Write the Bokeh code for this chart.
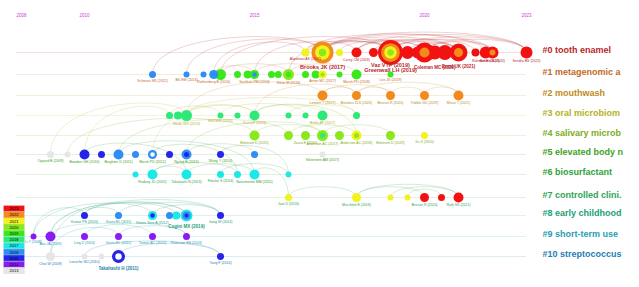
from bokeh.plotting import figure
from bokeh.models import Range1d
from bokeh.embed import file_html
from bokeh.resources import INLINE
from bokeh.core.properties import value

# ---------------- data ----------------
slice_years = [2023, 2022, 2021, 2020, 2019, 2018, 2017, 2016, 2015, 2014, 2013]
slice_colors = ["#f21212", "#f28a1c", "#f2f21c", "#8ae81c", "#3ce81c", "#2ee878",
                "#1ce8e8", "#2e8ef2", "#2424ea", "#8a1cf2", "#e6e6e6"]

axis_years = [2008, 2010, 2015, 2020, 2023]

# cluster labels as far as they are visible in the view
cluster_labels = ["#0 tooth enamel", "#1 metagenomic a", "#2 mouthwash",
                  "#3 oral microbiom", "#4 salivary microb",
                  "#5 elevated body n", "#6 biosurfactant",
                  "#7 controlled clini.", "#8 early childhood",
                  "#9 short-term use", "#10 streptococcus"]
cluster_colors = ["#b8262a", "#bf6a26", "#c08a1c", "#b4b21e", "#7eac1e", "#3ea224",
                  "#2ea23a", "#2ea454", "#20a078", "#1e9eb2", "#1e7eb4"]

# nodes: cluster, timeline year, radius class, rings of slice years (outer -> inner)
node_cluster = [0, 0, 0, 0, 0, 0, 0, 0, 0, 0, 0, 0, 0, 0, 0, 0,
                1, 1, 1, 1, 1, 1, 1, 1, 1, 1, 1, 1, 1, 1, 1, 1, 1,
                2, 2, 2, 2, 2,
                3, 3, 3, 3, 3, 3, 3, 3, 3, 3,
                4, 4, 4, 4, 4, 4, 4, 4,
                5, 5, 5, 5, 5, 5, 5, 5, 5, 5, 5, 5,
                6, 6, 6, 6, 6, 6, 6,
                7, 7, 7, 7, 7, 7, 7,
                8, 8, 8, 8, 8, 8, 8,
                9, 9, 9, 9, 9, 9,
                10, 10, 10, 10, 10]
node_t = [2016.5, 2017, 2017.5, 2018, 2018.5, 2019, 2019.5, 2019.8, 2020, 2020.3, 2020.6,
          2021, 2021.5, 2021.8, 2022, 2023,
          2012, 2013, 2013.5, 2013.8, 2014, 2014.5, 2014.8, 2015, 2015.5, 2015.7, 2016,
          2016.5, 2016.8, 2017, 2017.5, 2018, 2019,
          2017, 2018, 2019, 2020, 2021,
          2012.5, 2012.75, 2013, 2014, 2014.5, 2015, 2016, 2016.5, 2017, 2018,
          2015, 2016, 2016.5, 2017, 2017.5, 2018, 2019, 2020,
          2009, 2009.5, 2010, 2010.5, 2011, 2011.5, 2012, 2012.5, 2013, 2014, 2015, 2017,
          2011.5, 2012, 2013, 2014, 2014.5, 2015, 2016,
          2016, 2018, 2019, 2019.5, 2020, 2020.5, 2021,
          2010, 2011, 2012, 2012.5, 2012.7, 2013, 2014,
          2008.5, 2009, 2010, 2011, 2012, 2013,
          2009, 2010, 2010.5, 2011, 2014]
node_r = [4, 11, 3.5, 5, 4.5, 12.5, 6.5, 6, 10, 7, 7.5, 9, 4, 6, 6, 6,
          3.5, 3, 3, 4.5, 5.5, 3.5, 4, 4.5, 3.5, 3.5, 5.5, 3.5, 4, 4, 3, 5, 3,
          5, 4.5, 4.5, 4.5, 5,
          3.5, 4, 5.5, 3, 3, 5, 3, 3, 5, 3.5,
          5, 4.5, 4.5, 5.5, 4.5, 5, 4.5, 3.5,
          3.5, 3, 5, 3.5, 5, 3.5, 4.5, 3.5, 5, 3.5, 3.5, 3,
          3, 5, 5, 3.5, 3.5, 5, 3,
          3.5, 4.5, 3, 3, 4.5, 3.5, 5,
          3.5, 3.5, 4.5, 3.5, 4, 6, 3.5,
          3, 5, 3.5, 3.5, 3.5, 3.5,
          4.5, 3, 3, 6.5, 3.5]
node_rings = ["2021", "2022 2021 2020", "2021", "2023", "2023", "2023 2022 2021 2020",
              "2023", "2023", "2023 2022", "2023", "2023", "2023 2022", "2023", "2023",
              "2023 2022", "2023",
              "2016", "2016", "2016", "2016", "2019", "2019", "2019", "2019 2016", "2019",
              "2019", "2020 2019", "2019", "2019", "2021 2020", "2019", "2019", "2019",
              "2022", "2022", "2022", "2022", "2022",
              "2018", "2018", "2018", "2018", "2018", "2018", "2018", "2018", "2018", "2018",
              "2020", "2020", "2020", "2020 2018", "2020", "2021 2020", "2020", "2021",
              "2013", "2013", "2015", "2015", "2016", "2016", "2016 w", "2015", "2016 2015",
              "2015", "2016", "2013",
              "2017", "2017", "2017", "2017", "2017", "2017", "2017",
              "2021", "2021", "2021", "2021", "2023", "2023", "2023",
              "2015", "2016", "2017 2015", "2016", "2017", "2017 2016 2015", "2015",
              "2014", "2014", "2014", "2014", "2014", "2014",
              "2013", "2013", "2013", "2015 w", "2015"]

# co-citation links: (cluster, year) -> (cluster, year)
edges = [((0, 2017), (0, 2019)), ((0, 2017), (0, 2020)), ((0, 2017), (0, 2021)),
         ((0, 2017), (0, 2023)), ((0, 2016.5), (0, 2019)), ((0, 2018), (0, 2020.6)),
         ((0, 2019), (0, 2021)), ((0, 2019), (0, 2022)), ((0, 2019), (0, 2023)),
         ((0, 2018.5), (0, 2021.5)), ((0, 2020), (0, 2022)), ((0, 2019.5), (0, 2021)),
         ((0, 2020), (0, 2023)), ((0, 2017.5), (0, 2020)), ((0, 2016.5), (0, 2021.8)),
         ((0, 2018), (0, 2023)), ((0, 2017), (0, 2022)), ((0, 2018), (0, 2021)),
         ((1, 2012), (0, 2017)), ((1, 2013), (0, 2017)), ((1, 2014), (0, 2019)),
         ((1, 2015), (0, 2018)), ((1, 2016), (0, 2019)), ((1, 2013.8), (0, 2016.5)),
         ((1, 2013.8), (1, 2015)), ((1, 2014), (1, 2016)), ((1, 2015), (1, 2017)),
         ((1, 2016), (1, 2018)),
         ((2, 2017), (2, 2018)), ((2, 2018), (2, 2019)), ((2, 2019), (2, 2020)),
         ((2, 2020), (2, 2021)), ((2, 2017), (2, 2019)), ((2, 2018), (2, 2021)),
         ((3, 2013), (2, 2017)), ((3, 2015), (2, 2018)), ((3, 2012.5), (3, 2014)),
         ((3, 2013), (3, 2015)), ((3, 2015), (3, 2017)), ((3, 2014), (3, 2016.5)),
         ((3, 2013), (3, 2018)), ((3, 2016), (3, 2018)),
         ((5, 2009), (3, 2013)), ((5, 2009.5), (4, 2015)), ((5, 2010), (3, 2012.5)),
         ((5, 2011), (4, 2016)), ((5, 2013), (4, 2017)), ((5, 2012), (3, 2015)),
         ((4, 2015), (4, 2017)), ((4, 2016), (4, 2018)), ((4, 2017), (4, 2019)),
         ((3, 2015), (4, 2018)),
         ((5, 2010), (6, 2013)), ((5, 2011), (6, 2015)), ((5, 2012), (6, 2014.5)),
         ((6, 2012), (6, 2013)), ((6, 2013), (6, 2015)), ((6, 2012), (6, 2014.5)),
         ((6, 2014), (6, 2016)), ((5, 2014), (6, 2016)), ((5, 2013), (5, 2015)),
         ((6, 2015), (7, 2016)), ((7, 2016), (7, 2018)), ((7, 2018), (7, 2020)),
         ((7, 2019), (7, 2021)), ((7, 2019.5), (7, 2020.5)), ((7, 2018), (7, 2021)),
         ((9, 2008.5), (8, 2012)), ((9, 2009), (8, 2013)), ((8, 2010), (8, 2013)),
         ((8, 2011), (8, 2014)), ((8, 2012), (8, 2014)), ((10, 2009), (8, 2011)),
         ((9, 2009), (9, 2012)), ((9, 2010), (9, 2013)), ((9, 2011), (9, 2013)),
         ((10, 2010), (10, 2014)), ((10, 2011), (10, 2014)), ((9, 2008.5), (8, 2010)),
         ((10, 2009), (9, 2011)), ((8, 2010), (8, 2012.7)), ((9, 2009), (8, 2014))]

# node labels: cluster, year, text
big_labels = [(0, 2017, "Brooks JK (2017)"), (0, 2019, "Vaz VTP (2019)"),
              (0, 2019, "Greenwall LH (2019)"), (0, 2020.3, "Coleman MC (2020)"),
              (0, 2021, "Bond UK (2021)"), (8, 2013, "Cugini MX (2019)"),
              (10, 2011, "Takahashi H (2011)")]
small_labels = [(0, 2016.5, "Alqahtani AS (2017)"), (0, 2018, "Carey CM (2018)"),
                (0, 2021.8, "Rahman B (2020)"), (0, 2022, "Bohren A (2020)"),
                (0, 2023, "Sendra BS (2022)"),
                (1, 2012, "Schwarz SR (2012)"), (1, 2013, "Bik EM (2013)"),
                (1, 2013.8, "Rothenberg B (2016)"), (1, 2015, "Souffrah PM (2016)"),
                (1, 2016, "Kilian M (2016)"), (1, 2017, "Anton MC (2017)"),
                (1, 2018, "Marsh PD (2018)"), (1, 2019, "Lee JS (2019)"),
                (2, 2017, "Lamont T (2017)"), (2, 2018, "Brookes ZLS (2020)"),
                (2, 2019, "Bescos R (2020)"), (2, 2020, "Tribble GD (2019)"),
                (2, 2021, "Mitsui T (2021)"),
                (3, 2013, "Wade WG (2013)"), (3, 2015, "Zaura E (2015)"),
                (3, 2017, "Belda AF (2017)"), (3, 2014, "Hall MW (2014)"),
                (4, 2015, "Belstrom D (2015)"), (4, 2017, "Anderson AC (2017)"),
                (4, 2018, "Anderson AC (2018)"), (4, 2019, "Belstrom D (2019)"),
                (4, 2016.5, "Zaura E (2016)"), (4, 2020, "Xu X (2020)"),
                (5, 2009, "Ogaard B (2009)"), (5, 2010, "Bowden GH (2010)"),
                (5, 2011, "Beighton D (2011)"), (5, 2012, "Marsh PD (2012)"),
                (5, 2013, "Nyvad B (2013)"), (5, 2014, "Wang Y (2014)"),
                (5, 2017, "Silverstein AM (2017)"),
                (6, 2012, "Rudney JD (2012)"), (6, 2013, "Takahashi N (2013)"),
                (6, 2015, "Nascimento MM (2015)"), (6, 2014, "Filoche S (2014)"),
                (7, 2016, "Jain D (2016)"), (7, 2018, "Marchetti E (2018)"),
                (7, 2020, "Bescos R (2020)"), (7, 2021, "Rath SK (2021)"),
                (8, 2010, "Kumar PS (2010)"), (8, 2011, "Gross EL (2011)"),
                (8, 2012, "Simon-Soro A (2012)"), (8, 2014, "Jiang W (2014)"),
                (9, 2008.5, "Li Y (2008)"), (9, 2009, "Aas JA (2009)"),
                (9, 2010, "Ling Z (2010)"), (9, 2011, "Gross EL (2011)"),
                (9, 2012, "Tanner AC (2012)"), (9, 2013, "Peterson SN (2013)"),
                (10, 2009, "Choi W (2009)"), (10, 2010, "Loesche WJ (2010)"),
                (10, 2014, "Yang F (2014)")]

# ---------------- layout ----------------
W, H = 639, 287
row_y = [52, 74, 95, 115, 135, 154, 174, 197, 215, 236, 256]
PX0, PX_PER_YEAR, T0 = 84, 34.0, 2010.0


def t_at(px):
    return T0 + (px - PX0) / PX_PER_YEAR


color_of = dict(zip(slice_years, slice_colors))

p = figure(width=W, height=H, output_backend="svg", toolbar_location=None,
           x_range=Range1d(t_at(0), t_at(W)), y_range=Range1d(H, 0),
           min_border=0, outline_line_color=None)
p.axis.visible = False
p.grid.visible = False
p.background_fill_color = "white"

# dotted cluster lines
for i, c in enumerate(cluster_colors):
    p.line([2008, 2023], [row_y[i], row_y[i]], line_color=c, line_alpha=0.3,
           line_width=1, line_dash="1 1")

# arcs
node_y = {}
node_size = {}
for c, t, r, rg in zip(node_cluster, node_t, node_r, node_rings):
    node_y[(c, t)] = row_y[c]
    node_size[(c, t)] = r

bx0, by0, bx1, by1, cx0, cy0, cx1, cy1, bcol = [], [], [], [], [], [], [], [], []
for (a, b) in edges:
    xa, ya = a[1], node_y[a]
    xb, yb = b[1], node_y[b]
    h = (6 + 2.4 * abs(xb - xa)) / 0.75
    top = min(ya, yb) - h
    bx0.append(xa); by0.append(ya); bx1.append(xb); by1.append(yb)
    cx0.append(xa); cy0.append(top); cx1.append(xb); cy1.append(top)
    bcol.append(cluster_colors[b[0]])
p.bezier(x0=bx0, y0=by0, x1=bx1, y1=by1, cx0=cx0, cy0=cy0, cx1=cx1, cy1=cy1,
         line_color=bcol, line_alpha=0.3, line_width=0.7)

# nodes (rings drawn outer -> inner)
order = sorted(range(len(node_t)), key=lambda k: -node_r[k])
for level in range(4):
    xs, ys, ss, cs = [], [], [], []
    for k in order:
        rings = node_rings[k].split()
        if level < len(rings):
            n = len(rings)
            rr = node_r[k] * (1 - level / n)
            col = "#ffffff" if rings[level] == "w" else color_of[int(rings[level])]
            if rings[level] == "w":
                rr = node_r[k] * 0.5
            xs.append(node_t[k]); ys.append(row_y[node_cluster[k]])
            ss.append(2 * rr)
            cs.append(col)
    if xs:
        p.scatter(xs, ys, size=ss, marker="circle", fill_color=cs, line_color=None)

# small node labels
sx, sy, stx, scol = [], [], [], []
for c, t, txt in small_labels:
    r = node_size[(c, t)]
    sx.append(t); sy.append(row_y[c] + r + 2.5); stx.append(txt)
    scol.append(cluster_colors[c])
p.text(sx, sy, text=stx, text_color=scol, text_font=value("Liberation Sans"),
       text_font_size="3.5px", text_align="center", text_baseline="middle")

# big labels
big_dy = [14, 12, 17, 15, 14, 11, 12]
for (c, t, txt), dy in zip(big_labels, big_dy):
    big = c == 0 and t in (2017, 2019)
    p.text([t], [row_y[c] + dy], text=[txt], text_color=cluster_colors[c],
           text_font=value("Liberation Sans"), text_font_style="bold",
           text_font_size="5.5px" if big else "4.5px",
           text_align="center", text_baseline="middle")

# cluster labels
p.text([t_at(542)] * len(cluster_labels), [y - 3 for y in row_y], text=cluster_labels,
       text_color=cluster_colors, text_font=value("Liberation Sans"),
       text_font_style="bold", text_font_size="9px", text_align="left",
       text_baseline="middle")

# year ticks on top
p.text(axis_years, [14] * len(axis_years), text=[str(y) for y in axis_years],
       text_color="#d23ad2", text_font=value("Liberation Sans"), text_font_size="4.5px",
       text_align=["left", "center", "center", "center", "center"],
       text_baseline="middle")

# colour legend of time slices
cell = 6.2
tops = [205 + i * cell for i in range(len(slice_years))]
p.quad(left=t_at(3), right=t_at(24), top=tops, bottom=[t + cell for t in tops],
       fill_color=slice_colors, line_color="#dddddd", line_width=0.3)
p.text([t_at(13.5)] * len(slice_years), [t + cell / 2 for t in tops],
       text=[str(y) for y in slice_years], text_color="black",
       text_font=value("Liberation Sans"), text_font_size="4px",
       text_align="center", text_baseline="middle")

open("out.html", "w").write(file_html(p, INLINE))
